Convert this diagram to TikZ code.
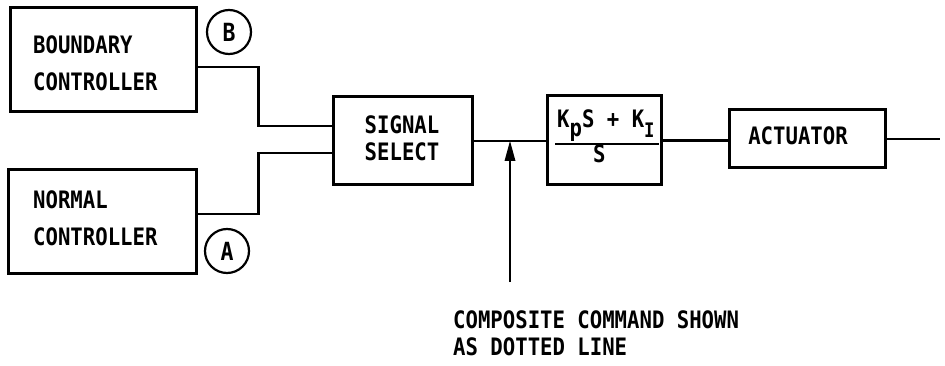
\documentclass[tikz,border=0pt]{standalone}
\usepackage{fontspec}
\newfontfamily\monof[FakeStretch=0.86]{DejaVu Sans Mono}
\usetikzlibrary{arrows.meta}
\begin{document}
\begin{tikzpicture}[x=1pt,y=-1pt,
  blk/.style={draw,line width=3pt,inner sep=0pt},
  wire/.style={line width=2.4pt},
  lbl/.style={font=\monof\bfseries\fontsize{24}{27}\selectfont,inner sep=0pt},
  tag/.style={draw,circle,line width=2.2pt,minimum size=44pt,inner sep=0pt,font=\monof\bfseries\fontsize{25}{27}\selectfont}]
\useasboundingbox (0,0) rectangle (945,366);
% boxes
\node[blk,minimum width=186pt,minimum height=104pt] (bc) at (103,60) {};
\node[blk,minimum width=188pt,minimum height=103pt] (nc) at (102,221.5) {};
\node[blk,minimum width=139pt,minimum height=88pt] (ss) at (402.5,141) {};
\node[blk,minimum width=114pt,minimum height=89pt] (k) at (604,140.5) {};
\node[blk,minimum width=156pt,minimum height=58pt] (act) at (807,139) {};
% labels
\node[lbl,anchor=west] (bct1) at (33,45) {BOUNDARY};
\node[lbl,anchor=west] (bct2) at (33,82) {CONTROLLER};
\node[lbl,anchor=west] (nct1) at (33,200) {NORMAL};
\node[lbl,anchor=west] (nct2) at (33,237) {CONTROLLER};
\node[lbl] (sst1) at (402,125) {SIGNAL};
\node[lbl] (sst2) at (402,152) {SELECT};
\node[lbl] (actt) at (798,136) {ACTUATOR};
\node[lbl,anchor=base west] (num) at (557,128) {K\raisebox{-9pt}{p}S + K\raisebox{-10pt}{\fontsize{20}{22}\selectfont I}};
\node[lbl,anchor=base west] (den) at (593,163) {S};
\draw[wire] (555,144) -- (659,144);
% tags
\node[tag] (tb) at (229,32) {B};
\node[tag] (ta) at (227,251) {A};
% connectors
\draw[wire] ([yshift=-7pt]bc.east) -- ++(61,0) |- ([yshift=15pt]ss.west);
\draw[wire] ([yshift=7.5pt]nc.east) -- ++(61,0) |- ([yshift=-12pt]ss.west);
\draw[wire] (ss.east) -- (k.west |- ss.east);
\draw[wire] (k.east) -- (act.west |- k.east);
\coordinate (out) at (940,139);
\draw[wire] (act.east) -- (out);
\coordinate (cmd) at (510,282);
\coordinate (tip) at (cmd |- ss.east);
\draw[wire] (cmd) -- ([yshift=-14pt]tip);
\fill (tip) -- ([xshift=-5.5pt,yshift=-20pt]tip) -- ([xshift=5.5pt,yshift=-20pt]tip) -- cycle;
% note
\node[lbl,anchor=north west,align=left] (note) at (453,310) {COMPOSITE COMMAND SHOWN\\AS DOTTED LINE};
\end{tikzpicture}
\end{document}
